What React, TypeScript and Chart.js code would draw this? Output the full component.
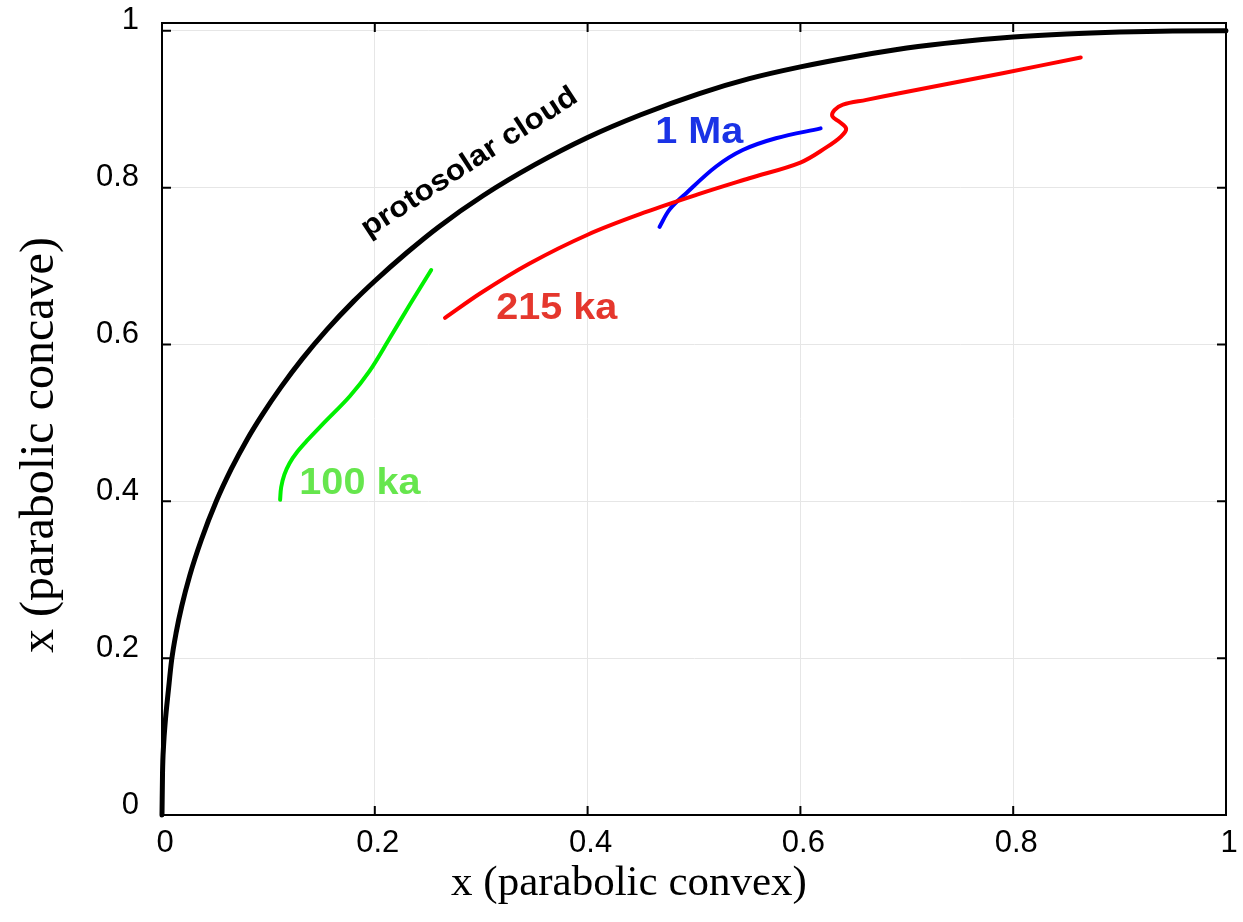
import React, { useEffect, useRef } from 'react';
import { Chart, registerables } from 'chart.js';

Chart.register(...registerables);

// protosolar cloud (black)
const protosolarX = [0, 0.0005, 0.0015, 0.003, 0.006, 0.009, 0.0135, 0.0185, 0.026, 0.037, 0.051, 0.065, 0.08, 0.094, 0.112, 0.132, 0.155, 0.18, 0.2, 0.23, 0.26, 0.302, 0.35, 0.4, 0.45, 0.505, 0.552, 0.6, 0.65, 0.7, 0.75, 0.8, 0.85, 0.9, 0.95, 1.0];
const protosolarY = [0, 0.054, 0.089, 0.118, 0.159, 0.197, 0.234, 0.266, 0.305, 0.351, 0.4, 0.441, 0.479, 0.51, 0.546, 0.582, 0.619, 0.655, 0.681, 0.717, 0.75, 0.79, 0.829, 0.864, 0.893, 0.92, 0.939, 0.954, 0.967, 0.978, 0.986, 0.992, 0.996, 0.9985, 0.9998, 1.0];

// 100 ka (green)
const ka100X = [0.111, 0.112, 0.115, 0.12, 0.127, 0.136, 0.1515, 0.1765, 0.195, 0.214, 0.233, 0.253];
const ka100Y = [0.402, 0.418, 0.434, 0.449, 0.463, 0.477, 0.499, 0.534, 0.566, 0.608, 0.651, 0.695];

// 215 ka (red)
const ka215X = [0.266, 0.3, 0.345, 0.4, 0.455, 0.505, 0.552, 0.6, 0.624, 0.638, 0.643, 0.6366, 0.630, 0.632, 0.640, 0.662, 0.693, 0.79, 0.8635];
const ka215Y = [0.634, 0.666, 0.703, 0.74, 0.769, 0.792, 0.812, 0.832, 0.851, 0.865, 0.875, 0.884, 0.891, 0.899, 0.906, 0.912, 0.9205, 0.946, 0.966];

// 1 Ma (blue)
const ma1X = [0.4676, 0.477, 0.4927, 0.5208, 0.5458, 0.577, 0.619];
const ma1Y = [0.75, 0.772, 0.793, 0.827, 0.848, 0.863, 0.8756];

const xTicks = [0, 0.2, 0.4, 0.6, 0.8, 1];
const yTicks = [0, 0.2, 0.4, 0.6, 0.8, 1];

const xTitle = 'x (parabolic convex)';
const yTitle = 'x (parabolic concave)';

const curveLabels = [
  { text: 'protosolar cloud', x: 0.289, y: 0.832, color: '#000000', angle: -33, size: 29 },
  { text: '1 Ma', x: 0.505, y: 0.869, color: '#1a33e6', angle: 0, size: 36 },
  { text: '215 ka', x: 0.371, y: 0.645, color: '#e5372d', angle: 0, size: 36 },
  { text: '100 ka', x: 0.186, y: 0.422, color: '#66e64d', angle: 0, size: 36 },
];

const toPoints = (xs: number[], ys: number[]) => xs.map((v, i) => ({ x: v, y: ys[i] }));

const framePlugin = {
  id: 'frameAndLabels',
  afterDraw(chart: any) {
    const { ctx, chartArea, scales } = chart;
    const { left, right, top, bottom } = chartArea;
    const xs = scales.x;
    const ys = scales.y;
    ctx.save();
    ctx.strokeStyle = '#000';
    ctx.lineWidth = 2;
    ctx.strokeRect(left, top, right - left, bottom - top);
    const tl = 9;
    ctx.beginPath();
    xTicks.forEach((v) => {
      const px = xs.getPixelForValue(v);
      ctx.moveTo(px, bottom);
      ctx.lineTo(px, bottom - tl);
      ctx.moveTo(px, top);
      ctx.lineTo(px, top + tl);
    });
    yTicks.forEach((v) => {
      const py = ys.getPixelForValue(v);
      ctx.moveTo(left, py);
      ctx.lineTo(left + tl, py);
      ctx.moveTo(right, py);
      ctx.lineTo(right - tl, py);
    });
    ctx.stroke();

    curveLabels.forEach((l) => {
      const px = xs.getPixelForValue(l.x);
      const py = ys.getPixelForValue(l.y);
      ctx.save();
      ctx.translate(px, py);
      ctx.rotate((l.angle * Math.PI) / 180);
      ctx.scale(1.1, 1);
      ctx.font = `bold ${l.size}px "Liberation Sans", Arial, sans-serif`;
      ctx.fillStyle = l.color;
      ctx.textAlign = 'center';
      ctx.textBaseline = 'middle';
      ctx.fillText(l.text, 0, 0);
      ctx.restore();
    });

    ctx.fillStyle = '#000';
    ctx.textAlign = 'center';
    ctx.textBaseline = 'middle';
    ctx.font = '43px "Liberation Serif", serif';
    ctx.fillText(xTitle, 629, 884);
    ctx.save();
    ctx.translate(40, 445);
    ctx.rotate(-Math.PI / 2);
    ctx.font = '48px "Liberation Serif", serif';
    ctx.fillText(yTitle, 0, 0);
    ctx.restore();
    ctx.restore();
  },
};

const fmt = (v: number) => String(Math.round(v * 10) / 10);

export default function App() {
  const ref = useRef<HTMLCanvasElement | null>(null);
  useEffect(() => {
    if (!ref.current) return;
    const lineBase = {
      pointRadius: 0,
      borderCapStyle: 'round' as const,
      borderJoinStyle: 'round' as const,
      fill: false,
      clip: false as any,
    };
    const chart = new Chart(ref.current, {
      type: 'line',
      data: {
        datasets: [
          { ...lineBase, label: 'protosolar cloud', data: toPoints(protosolarX, protosolarY), borderColor: '#000000', borderWidth: 5, cubicInterpolationMode: 'monotone' },
          { ...lineBase, label: '100 ka', data: toPoints(ka100X, ka100Y), borderColor: '#00f000', borderWidth: 4, tension: 0.35 },
          { ...lineBase, label: '215 ka', data: toPoints(ka215X, ka215Y), borderColor: '#ff0000', borderWidth: 4, tension: 0.35 },
          { ...lineBase, label: '1 Ma', data: toPoints(ma1X, ma1Y), borderColor: '#0000ff', borderWidth: 4, tension: 0.35 },
        ],
      },
      options: {
        animation: false,
        responsive: false,
        layout: { padding: { top: 23, right: 17, left: 0, bottom: 0 } },
        plugins: { legend: { display: false }, tooltip: { enabled: false } },
        scales: {
          x: {
            type: 'linear',
            min: 0,
            max: 1,
            afterBuildTicks: (s: any) => { s.ticks = xTicks.map((v) => ({ value: v })); },
            afterFit: (s: any) => { s.height = 107; s.paddingLeft = 0; s.paddingRight = 0; s.paddingTop = 0; s.paddingBottom = 0; },
            ticks: {
              callback: (v: any) => fmt(Number(v)),
              font: { family: '"Liberation Sans", Arial, sans-serif', size: 31 },
              color: '#000',
              padding: 10,
              maxRotation: 0,
              labelOffset: 3,
            },
            grid: { color: '#e6e6e6', lineWidth: 1, drawTicks: false },
            border: { display: true, color: '#000', width: 2 },
          },
          y: {
            type: 'linear',
            min: 0,
            max: 1.01,
            afterBuildTicks: (s: any) => { s.ticks = yTicks.map((v) => ({ value: v })); },
            afterFit: (s: any) => { s.width = 162; s.paddingLeft = 0; s.paddingRight = 0; s.paddingTop = 0; s.paddingBottom = 0; },
            ticks: {
              callback: (v: any) => fmt(Number(v)),
              font: { family: '"Liberation Sans", Arial, sans-serif', size: 31 },
              color: '#000',
              padding: 23,
              labelOffset: -10,
            },
            grid: { color: '#e6e6e6', lineWidth: 1, drawTicks: false },
            border: { display: true, color: '#000', width: 2 },
          },
        },
      },
      plugins: [framePlugin],
    } as any);
    return () => chart.destroy();
  }, []);
  return (
    <div style={{ position: 'absolute', left: 0, top: 0, width: 1243, height: 922, background: '#fff' }}>
      <canvas ref={ref} width={1243} height={922} />
    </div>
  );
}
